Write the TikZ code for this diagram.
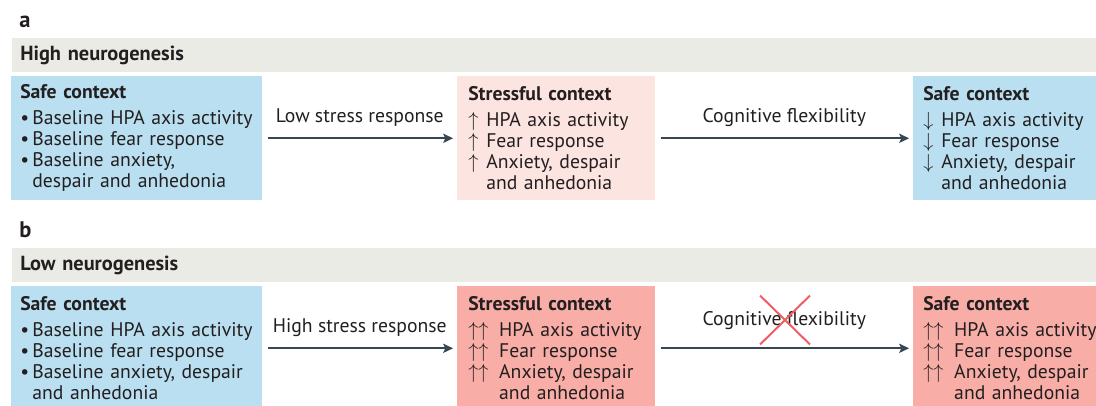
\documentclass[tikz,border=0pt]{standalone}
\usepackage{fontspec}
\setmainfont{PT Sans}
\usetikzlibrary{arrows.meta, positioning, shapes.misc}
\usepackage{xcolor}

\definecolor{safeblue}{RGB}{185,223,240}
\definecolor{palepink}{RGB}{252,228,225}
\definecolor{salmon}{RGB}{248,174,167}
\definecolor{bandgrey}{RGB}{235,235,230}
\definecolor{arrowslate}{RGB}{55,71,82}
\definecolor{inkdark}{RGB}{35,31,32}
\definecolor{crossred}{RGB}{238,92,100}

\newcommand{\ctxfont}{\fontsize{14pt}{14.9pt}\selectfont\hyphenpenalty=10000}
\newcommand{\bul}{\makebox[8.6pt][l]{\textbullet}}
\newcommand{\upone}{\makebox[12.8pt][l]{$\uparrow$}}
\newcommand{\dnone}{\makebox[12.8pt][l]{$\downarrow$}}
\newcommand{\uptwo}{\makebox[22pt][l]{$\uparrow\uparrow$}}
\newcommand{\ctxtitle}[1]{\textbf{#1}\\[3.5pt]}

\tikzset{
  ctxbox/.style={anchor=north west, inner ysep=0pt, minimum height=3.1cm,
    align=left, font=\ctxfont, text=inkdark},
  bandbox/.style={anchor=north west, fill=bandgrey, minimum width=27.1cm,
    minimum height=0.85cm, text width=26.7cm, inner xsep=0.2cm, inner ysep=0pt,
    align=left, font=\fontsize{14.5pt}{15pt}\selectfont\bfseries, text=inkdark},
  panelletter/.style={anchor=base west, inner sep=0pt,
    font=\fontsize{16pt}{18pt}\selectfont\bfseries, text=inkdark},
  flowarrow/.style={draw=arrowslate, line width=1.6pt,
    -{Stealth[length=7pt, width=6.5pt, inset=1.5pt]},
    shorten <=3.6pt, shorten >=2.8pt},
  flowlabel/.style={font=\ctxfont, text=inkdark},
  crossmark/.style={cross out, draw=crossred, line width=1.4pt,
    minimum width=1.2cm, minimum height=1.175cm, inner sep=0pt}
}

\begin{document}
\begin{tikzpicture}[x=0.025cm, y=-0.025cm]

    % picture frame in pixel units of the original figure
    \useasboundingbox (0,0) rectangle (1096,406);
    \clip (0,0) rectangle (1096,406);

    % ==========================================
    % PANEL A: HIGH NEUROGENESIS
    % ==========================================

    \node[panelletter] (letterA) at (19,28) {a};
    \node[bandbox] (bandA) at (12,38) {High neurogenesis};

    \node[ctxbox, fill=safeblue, text width=5.825cm, inner xsep=0.225cm] (safeA) at (11,76)
      {\ctxtitle{Safe context}\bul Baseline HPA axis activity\\
       \bul Baseline fear response\\
       \bul Baseline anxiety,\\
       \hspace*{8.6pt}despair and anhedonia};
    \node[ctxbox, fill=palepink, text width=4.4cm, inner xsep=0.275cm] (stressA) at (457,76)
      {\ctxtitle{Stressful context}\upone HPA axis activity\\
       \upone Fear response\\
       \upone Anxiety, despair\\
       \hspace*{12.8pt}and anhedonia};
    \node[ctxbox, fill=safeblue, text width=5cm, inner xsep=0.25cm] (calmA) at (913,76)
      {\ctxtitle{Safe context}\dnone HPA axis activity\\
       \dnone Fear response\\
       \dnone Anxiety, despair\\
       \hspace*{12.8pt}and anhedonia};

    \draw[flowarrow] (safeA) -- node[flowlabel, above=4pt] (lowA) {Low stress response} (stressA);
    \draw[flowarrow] (stressA) -- node[flowlabel, above=4pt] (cogA) {Cognitive flexibility} (calmA);

    % ==========================================
    % PANEL B: LOW NEUROGENESIS
    % ==========================================

    \node[panelletter] (letterB) at (19,238) {b};
    \node[bandbox] (bandB) at (12,248) {Low neurogenesis};

    \node[ctxbox, fill=safeblue, text width=5.825cm, inner xsep=0.225cm] (safeB) at (11,286)
      {\ctxtitle{Safe context}\bul Baseline HPA axis activity\\
       \bul Baseline fear response\\
       \bul Baseline anxiety, despair\\
       \hspace*{8.6pt}and anhedonia};
    \node[ctxbox, fill=salmon, text width=4.4cm, inner xsep=0.275cm] (stressB) at (457,286)
      {\ctxtitle{Stressful context}\mbox{\uptwo HPA axis activity}\\
       \uptwo Fear response\\
       \uptwo Anxiety, despair\\
       \hspace*{22pt}and anhedonia};
    \node[ctxbox, fill=salmon, text width=5cm, inner xsep=0.25cm] (calmB) at (913,286)
      {\ctxtitle{Safe context}\uptwo HPA axis activity\\
       \uptwo Fear response\\
       \uptwo Anxiety, despair\\
       \hspace*{22pt}and anhedonia};

    \draw[flowarrow] (safeB) -- node[flowlabel, above=4pt] (highB) {High stress response} (stressB);
    \draw[flowarrow] (stressB) -- node[flowlabel, above=9pt] (cogB) {Cognitive flexibility} (calmB);

    % flexibility is lost: red cross over the label
    \node[crossmark] (noflexB) at (785,320) {};

\end{tikzpicture}
\end{document}
